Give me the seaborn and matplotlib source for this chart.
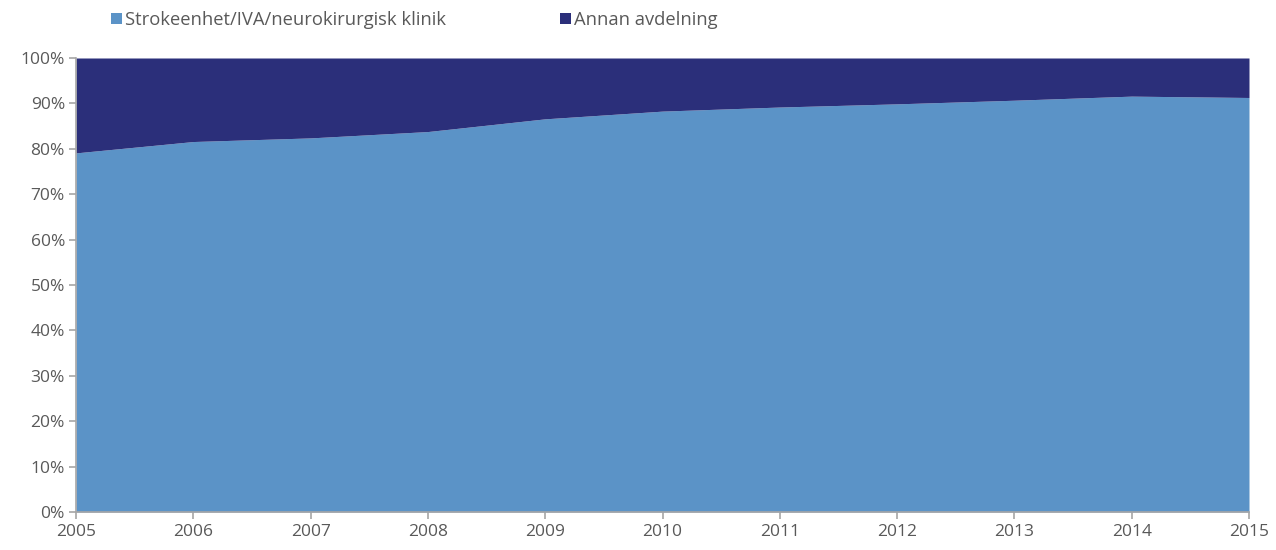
import matplotlib
matplotlib.use("Agg")
import matplotlib.pyplot as plt
import seaborn as sns
import pandas as pd
from matplotlib.patches import Patch
from matplotlib.ticker import PercentFormatter

years = [2005, 2006, 2007, 2008, 2009, 2010, 2011, 2012, 2013, 2014, 2015]
stroke_unit = [79.1, 81.6, 82.4, 83.8, 86.6, 88.3, 89.2, 89.9, 90.7, 91.6, 91.3]
other_ward = [100 - v for v in stroke_unit]
series_names = ["Strokeenhet/IVA/neurokirurgisk klinik", "Annan avdelning"]
colors = ["#5B93C7", "#2B2F7A"]

df = pd.DataFrame({"year": years, series_names[0]: stroke_unit, series_names[1]: other_ward})

sns.set_theme(style="white")
plt.rcParams["font.family"] = ["Open Sans", "DejaVu Sans"]

fig = plt.figure(figsize=(12.76, 5.5), dpi=100)
ax = fig.add_axes([76/1276, 1-512/550, (1249-76)/1276, (512-58)/550])

ax.stackplot(df["year"], df[series_names[0]], df[series_names[1]], colors=colors, linewidth=0)

ax.set_xlim(2005, 2015)
ax.set_ylim(0, 100)
ax.set_xticks(years)
ax.set_yticks(range(0, 101, 10))
ax.yaxis.set_major_formatter(PercentFormatter(decimals=0))
for s in ["top", "right"]:
    ax.spines[s].set_visible(False)
for s in ["left", "bottom"]:
    ax.spines[s].set_color("#A6A6A6")
    ax.spines[s].set_linewidth(1.2)
ax.tick_params(axis="both", which="major", length=5, width=1.2, color="#A6A6A6",
               labelcolor="#595959", labelsize=12.5, direction="out", left=True, bottom=True)
ax.tick_params(axis="x", pad=4)
ax.tick_params(axis="y", pad=3)
ax.set_xlabel("")
ax.set_ylabel("")

handles = [Patch(facecolor=c, edgecolor="none") for c in colors]
fig.legend(handles, series_names, loc="center left", bbox_to_anchor=(111/1276, 1-20/550),
           ncol=2, frameon=False, fontsize=13.2, labelcolor="#595959",
           handlelength=0.6, handleheight=0.6, handletextpad=0.17, columnspacing=6.2,
           borderaxespad=0, borderpad=0)

fig.savefig("out.png", dpi=100)
